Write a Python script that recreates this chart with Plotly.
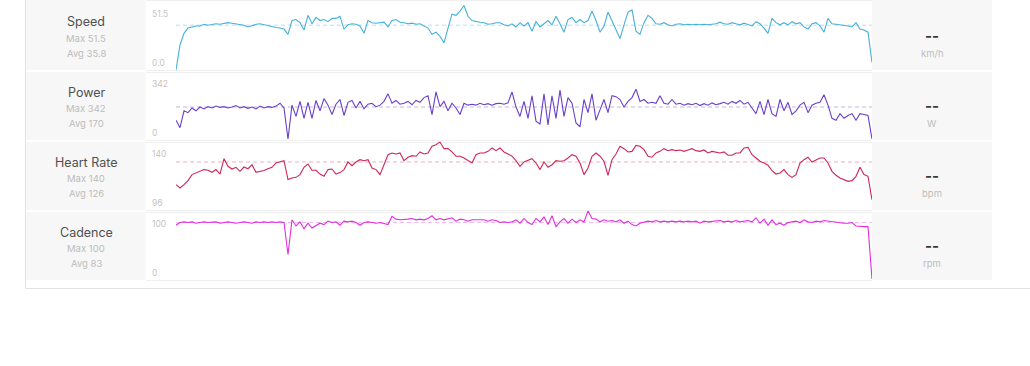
import plotly.graph_objects as go

# ---------------- data ----------------
metric_names = ["Speed", "Power", "Heart Rate", "Cadence"]
metric_max = ["51.5", "342", "140", "100"]
metric_avg = ["35.8", "170", "126", "83"]
metric_units = ["km/h", "W", "bpm", "rpm"]
tick_top = ["51.5", "342", "140", "100"]
tick_bottom = ["0.0", "0", "96", "0"]
avg_values = [35.8, 170, 126, 83]

speed = [
    0, 20.0, 29.3, 33.5, 34.4, 35.2, 35.2, 36.5, 35.7, 36.5,
    36.9, 36.5, 37.4, 37.8, 37.4, 36.9, 36.1, 35.7, 34.4, 35.7,
    36.5, 36.9, 36.1, 35.7, 34.8, 34.0, 33.6, 32.7, 28.5, 39.5,
    40.3, 37.8, 31.9, 43.7, 36.9, 42.0, 39.5, 40.3, 38.6, 41.2,
    41.2, 42.9, 32.7, 36.1, 36.9, 36.5, 35.2, 29.3, 39.5, 37.8,
    37.4, 37.8, 38.2, 34.4, 39.5, 40.3, 38.2, 37.8, 36.9, 37.4,
    36.5, 36.9, 35.2, 33.5, 28.5, 30.2, 26.8, 21.7, 33.5, 44.6,
    43.7, 47.1, 51.5, 42.9, 39.5, 38.6, 38.2, 37.8, 36.5, 36.9,
    37.8, 37.8, 36.1, 35.2, 36.9, 34.4, 37.8, 35.2, 37.8, 31.0,
    38.6, 34.4, 36.9, 39.5, 36.1, 42.9, 36.9, 30.2, 40.3, 42.0,
    37.8, 40.3, 37.8, 39.5, 47.1, 39.5, 30.2, 35.2, 46.3, 39.5,
    31.9, 25.1, 36.1, 46.3, 48.0, 31.0, 28.5, 37.8, 43.7, 41.2,
    36.9, 36.5, 37.8, 36.1, 35.2, 36.5, 36.9, 36.1, 36.5, 36.1,
    36.5, 36.1, 36.5, 36.1, 36.5, 36.9, 38.2, 36.9, 36.5, 37.8,
    36.9, 36.1, 37.4, 36.1, 35.2, 38.6, 36.9, 33.5, 29.3, 41.2,
    37.8, 36.1, 37.8, 36.1, 38.6, 36.9, 37.8, 34.4, 32.7, 36.9,
    37.8, 35.2, 30.2, 41.2, 36.9, 36.5, 36.1, 36.1, 35.2, 34.4,
    37.8, 32.7, 31.9, 30.2, 6,
]

power = [
    100, 60, 150, 140, 165, 150, 170, 160, 172, 165,
    175, 168, 172, 165, 170, 178, 165, 172, 163, 170,
    160, 175, 165, 172, 168, 175, 190, 165, 0, 180,
    120, 200, 110, 195, 110, 205, 150, 215, 180, 130,
    185, 210, 125, 195, 205, 165, 200, 160, 185, 190,
    172, 180, 200, 240, 190, 205, 185, 190, 200, 182,
    205, 195, 220, 230, 130, 250, 172, 200, 150, 190,
    165, 130, 190, 180, 185, 180, 190, 182, 188, 180,
    188, 190, 185, 192, 250, 170, 120, 200, 110, 230,
    95, 80, 240, 75, 230, 110, 260, 120, 220, 190,
    85, 65, 210, 140, 240, 100, 155, 210, 140, 230,
    225, 210, 170, 200, 220, 265, 200, 210, 190, 195,
    190, 230, 190, 185, 210, 185, 190, 180, 188, 182,
    190, 178, 188, 180, 192, 182, 188, 195, 185, 200,
    190, 205, 185, 195, 165, 135, 200, 130, 210, 135,
    120, 210, 150, 195, 130, 150, 180, 195, 140, 180,
    190, 195, 235, 180, 110, 100, 135, 110, 125, 135,
    100, 135, 130, 125, 0,
]

heart_rate = [
    110.2, 107.9, 110.2, 113.0, 117.2, 118.3, 119.5, 120.7, 120.2, 118.8,
    120.7, 117.6, 128.3, 123.0, 121.1, 122.3, 119.5, 122.5, 121.3, 124.1,
    118.8, 119.5, 120.0, 121.3, 122.3, 125.3, 126.0, 126.9, 113.7, 114.8,
    115.3, 117.2, 122.3, 124.6, 120.2, 120.2, 117.6, 116.0, 120.7, 121.1,
    117.6, 118.6, 120.7, 126.0, 123.4, 126.0, 127.6, 126.9, 127.6, 121.8,
    120.7, 117.2, 124.1, 131.1, 132.3, 131.6, 132.3, 126.9, 129.3, 130.4,
    130.0, 133.0, 131.6, 132.3, 137.0, 138.1, 140.0, 135.3, 135.3, 133.0,
    130.0, 130.0, 128.8, 126.9, 125.3, 131.1, 132.3, 132.3, 133.4, 135.8,
    133.9, 135.8, 133.0, 131.6, 130.0, 126.9, 123.0, 126.0, 126.9, 128.3,
    125.3, 120.7, 126.0, 122.3, 124.1, 126.9, 126.5, 126.9, 128.8, 131.1,
    130.0, 125.3, 117.2, 121.8, 130.0, 132.3, 130.0, 126.5, 116.7, 127.6,
    131.6, 137.0, 135.3, 133.0, 133.4, 137.6, 137.0, 134.6, 130.0, 129.3,
    132.3, 133.4, 135.3, 133.9, 134.6, 133.9, 134.4, 133.4, 134.4, 135.3,
    133.9, 133.4, 134.4, 132.3, 133.4, 133.0, 132.3, 133.0, 130.7, 130.7,
    132.3, 132.3, 135.8, 136.2, 131.1, 128.8, 126.5, 125.3, 123.7, 120.0,
    117.6, 118.3, 120.7, 117.2, 115.3, 117.2, 125.3, 127.6, 129.3, 126.0,
    127.6, 128.8, 128.8, 125.3, 119.5, 116.7, 114.8, 113.7, 112.5, 113.0,
    116.0, 122.3, 117.2, 116.0, 99.7,
]

cadence = [
    79, 83, 84, 83, 84, 82, 83, 84, 83, 83,
    84, 82, 83, 84, 83, 82, 83, 84, 83, 82,
    84, 83, 84, 83, 84, 83, 84, 83, 36, 87,
    78, 84, 74, 82, 75, 78, 82, 80, 85, 83,
    84, 79, 85, 84, 85, 83, 79, 83, 84, 83,
    82, 83, 82, 80, 92, 88, 87, 87, 88, 89,
    87, 88, 87, 89, 93, 87, 89, 87, 88, 90,
    85, 88, 87, 85, 87, 87, 86, 87, 85, 87,
    86, 83, 84, 83, 84, 87, 82, 89, 83, 80,
    89, 84, 91, 80, 93, 77, 84, 89, 82, 88,
    83, 87, 84, 100, 89, 88, 84, 87, 85, 86,
    84, 87, 82, 85, 80, 78, 82, 84, 85, 84,
    86, 84, 85, 84, 85, 84, 85, 84, 85, 84,
    85, 82, 85, 84, 85, 85, 86, 84, 85, 84,
    86, 84, 85, 86, 84, 90, 82, 88, 79, 87,
    80, 82, 79, 83, 84, 85, 83, 87, 84, 83,
    85, 84, 86, 85, 84, 83, 83, 82, 82, 83,
    78, 77, 77, 77, 0,
]

samples = list(range(len(speed)))

# ---------------- styling / layout ----------------
W, H = 1030, 366


def fx(p):
    return p / W


def fy(p):
    return 1 - p / H


series = [speed, power, heart_rate, cadence]
line_colors = ["#46b1d9", "#6a3fc9", "#cc2757", "#e02fe0"]
avg_colors = ["#b5e0ef", "#c3b4e8", "#eeb0c2", "#f3b5f3"]
y_ranges = [[0, 52], [0, 345], [96, 140.5], [0, 101]]
y_pix = [(4.9, 70), (74.1, 139), (141.2, 205), (210.3, 279)]
row_tops = [0, 72, 142, 212]
row_bottoms = [70, 140, 210, 280]

PLOT_X0, PLOT_X1 = 176, 872
FONT = "Inter, Roboto, Arial, sans-serif"

fig = go.Figure()
layout = dict(
    width=W, height=H,
    margin=dict(l=0, r=0, t=0, b=0),
    paper_bgcolor="white", plot_bgcolor="rgba(0,0,0,0)",
    showlegend=False,
    font=dict(family=FONT),
)

shapes = []
annotations = []

for k in range(4):
    xa = "x" if k == 0 else f"x{k+1}"
    ya = "y" if k == 0 else f"y{k+1}"
    xkey = "xaxis" if k == 0 else f"xaxis{k+1}"
    ykey = "yaxis" if k == 0 else f"yaxis{k+1}"
    layout[xkey] = dict(domain=[fx(PLOT_X0), fx(PLOT_X1)], range=[samples[0], samples[-1]],
                        visible=False, fixedrange=True, anchor=ya)
    top, bot = y_pix[k]
    layout[ykey] = dict(domain=[fy(bot), fy(top)], range=y_ranges[k],
                        visible=False, fixedrange=True, anchor=xa)

    # average dashed line
    fig.add_trace(go.Scatter(
        x=[samples[0], samples[-1]], y=[avg_values[k], avg_values[k]],
        mode="lines", line=dict(color=avg_colors[k], width=1, dash="4px,3px"),
        xaxis=xa, yaxis=ya, hoverinfo="skip"))
    # data line
    fig.add_trace(go.Scatter(
        x=samples, y=series[k], mode="lines",
        line=dict(color=line_colors[k], width=1.1),
        xaxis=xa, yaxis=ya, name=metric_names[k]))

    rt, rb = row_tops[k], row_bottoms[k]
    # grey side panels
    shapes.append(dict(type="rect", xref="paper", yref="paper",
                       x0=fx(26), x1=fx(145.5), y0=fy(rb), y1=fy(rt),
                       fillcolor="#f7f7f7", line=dict(width=0), layer="below"))
    shapes.append(dict(type="rect", xref="paper", yref="paper",
                       x0=fx(872), x1=fx(992), y0=fy(rb), y1=fy(rt),
                       fillcolor="#f7f7f7", line=dict(width=0), layer="below"))
    # chart-row separator lines
    for yy in (rt + 0.5, rb + 0.5):
        shapes.append(dict(type="line", xref="paper", yref="paper",
                           x0=fx(146), x1=fx(872), y0=fy(yy), y1=fy(yy),
                           line=dict(color="#efefef", width=1), layer="below"))

    base = 70 * k
    annotations += [
        dict(x=fx(86), y=fy(22 + base), text=metric_names[k],
             font=dict(size=12.5, color="#505050")),
        dict(x=fx(86), y=fy(38 + base), text="Max " + metric_max[k],
             font=dict(size=9.5, color="#bcbcbc")),
        dict(x=fx(86), y=fy(53 + base), text="Avg " + metric_avg[k],
             font=dict(size=9.5, color="#bcbcbc")),
        dict(x=fx(932), y=fy(35 + base), text="<b>--</b>",
             font=dict(size=15, color="#3a3a3a")),
        dict(x=fx(932), y=fy(53 + base), text=metric_units[k],
             font=dict(size=9.5, color="#bcbcbc")),
        dict(x=fx(150), y=fy(14 + base), text=tick_top[k], xanchor="left",
             font=dict(size=8.5, color="#c4c4c4")),
        dict(x=fx(150), y=fy(63 + base), text=tick_bottom[k], xanchor="left",
             font=dict(size=8.5, color="#c4c4c4")),
    ]

# outer container borders
shapes.append(dict(type="line", xref="paper", yref="paper",
                   x0=fx(25.5), x1=fx(25.5), y0=fy(288), y1=fy(0),
                   line=dict(color="#e2e2e2", width=1)))
shapes.append(dict(type="line", xref="paper", yref="paper",
                   x0=fx(25.5), x1=fx(1030), y0=fy(288.5), y1=fy(288.5),
                   line=dict(color="#e2e2e2", width=1)))

for a in annotations:
    a.setdefault("xanchor", "center")
    a.update(xref="paper", yref="paper", yanchor="middle", showarrow=False)

layout["shapes"] = shapes
layout["annotations"] = annotations
fig.update_layout(**layout)

fig.write_html(
    "out.html",
    config={"displayModeBar": False},
    post_script="document.body.style.margin='0';document.body.style.overflow='hidden';",
)
